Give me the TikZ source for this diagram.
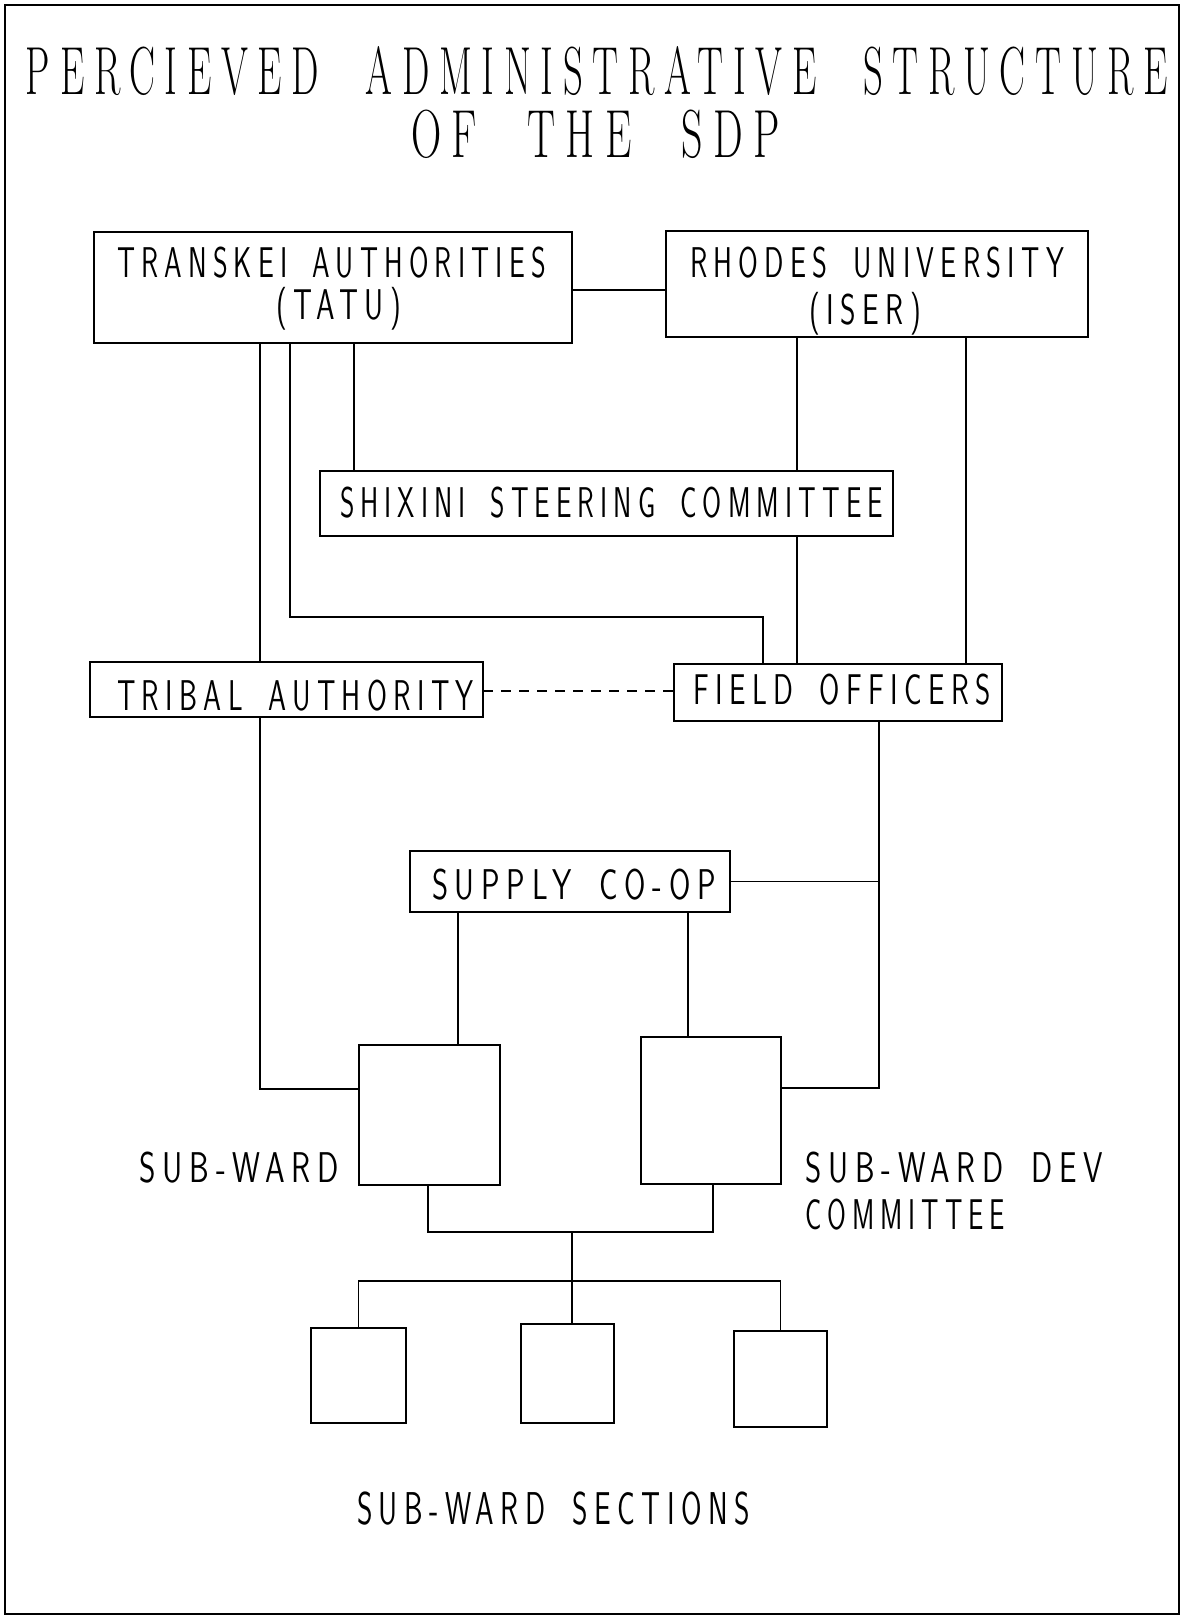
\documentclass[tikz,border=0pt]{standalone}
\usepackage{fontspec}
\usepackage{graphicx}
\newfontfamily\plotfam{Latin Modern Sans}[LetterSpace=22]
\newfontfamily\titlefam{Latin Modern Roman}[LetterSpace=25]
\newcommand{\plotfont}{\plotfam\fontsize{43}{50}\selectfont}
\newcommand{\bigplotfont}{\plotfam\fontsize{46}{52}\selectfont}
\newcommand{\titlefont}{\titlefam\fontsize{68}{76}\selectfont}
\newcommand{\fitw}[2]{\resizebox{#1pt}{\height}{#2}}
\newcommand{\ws}{\hspace{0.9em}}
\newcommand{\tws}{\hspace{1.2em}}
\tikzset{
  box/.style={draw, line width=2.3pt, rectangle, inner sep=0pt, outer sep=0pt},
  conn/.style={line width=1.6pt},
  lbl/.style={inner sep=0pt, outer sep=0pt, anchor=base west, font=\plotfont},
  biglbl/.style={inner sep=0pt, outer sep=0pt, anchor=base west, font=\bigplotfont},
  ttl/.style={inner sep=0pt, outer sep=0pt, anchor=base west, font=\titlefont},
  frame/.style={draw, line width=2.8pt},
}
\begin{document}
\begin{tikzpicture}[x=1pt, y=-1pt]
\useasboundingbox (0,0) rectangle (1184,1619);
\draw[frame] (5,5) rectangle (1179,1614);

% title
\node[ttl] (t1) at (26,95) {\fitw{1142}{PERCIEVED\tws ADMINISTRATIVE\tws STRUCTURE}};
\node[ttl] (t2) at (411,157) {\fitw{369}{OF\tws THE\tws SDP}};

% boxes
\node[box, minimum width=478pt, minimum height=111pt] (TA) at (333,287.5) {};
\node[box, minimum width=422pt, minimum height=106pt] (RU) at (877,284) {};
\node[box, minimum width=573pt, minimum height=65pt] (SC) at (606.5,503.5) {};
\node[box, minimum width=393pt, minimum height=55pt] (TR) at (286.5,689.5) {};
\node[box, minimum width=328pt, minimum height=57pt] (FO) at (838,692.5) {};
\node[box, minimum width=320pt, minimum height=61pt] (SP) at (570,881.5) {};
\node[box, minimum width=141pt, minimum height=140pt] (SW) at (429.5,1115) {};
\node[box, minimum width=140pt, minimum height=147pt] (SD) at (711,1110.5) {};
\node[box, minimum width=95pt, minimum height=95pt] (S1) at (358.5,1375.5) {};
\node[box, minimum width=93pt, minimum height=99pt] (S2) at (567.5,1373.5) {};
\node[box, minimum width=93pt, minimum height=96pt] (S3) at (780.5,1379) {};

% texts
\node[lbl] (tTA1) at (117,277) {\fitw{429}{TRANSKEI\ws AUTHORITIES}};
\node[lbl] (tTA2) at (276,319) {\fitw{125}{(TATU)}};
\node[lbl] (tRU1) at (690,277) {\fitw{374}{RHODES\ws UNIVERSITY}};
\node[lbl] (tRU2) at (809,324) {\fitw{112}{(ISER)}};
\node[lbl] (tSC) at (340,517) {\fitw{543}{SHIXINI\ws STEERING\ws COMMITTEE}};
\node[lbl] (tTR) at (117,710) {\fitw{357}{TRIBAL\ws AUTHORITY}};
\node[lbl] (tFO) at (693,704) {\fitw{298}{FIELD\ws OFFICERS}};
\node[lbl] (tSP) at (432,899) {\fitw{284}{SUPPLY\ws CO-OP}};
\node[lbl] (tSW) at (139,1182) {\fitw{200}{SUB-WARD}};
\node[lbl] (tSD1) at (805,1182) {\fitw{298}{SUB-WARD\ws DEV}};
\node[lbl] (tSD2) at (805,1229) {\fitw{200}{COMMITTEE}};
\node[biglbl] (tSS) at (357,1524) {\fitw{393}{SUB-WARD\ws SECTIONS}};

% helper coordinates
\coordinate (hTR) at (0,290);
\coordinate (vTAa) at (260,0);
\coordinate (vTAb) at (290,617);
\coordinate (vFOa) at (763,617);
\coordinate (vTAc) at (354,0);
\coordinate (vRUa) at (797,0);
\coordinate (vRUb) at (966,0);
\coordinate (vFOb) at (879,0);
\coordinate (hD) at (0,691);
\coordinate (hSW) at (0,1089);
\coordinate (hSD) at (0,1088);
\coordinate (vSPa) at (458,0);
\coordinate (vSPb) at (688,0);
\coordinate (vSWb) at (428,1232);
\coordinate (vSDb) at (713,1232);
\coordinate (mid) at (572,1232);
\coordinate (bar) at (572,1281);

% connectors
\draw[conn] (TA.east |- hTR) -- (RU.west |- hTR);
\draw[conn] (TA.south -| vTAa) -- (TR.north -| vTAa);
\draw[conn] (TR.south -| vTAa) -- (vTAa |- hSW) -- (SW.west |- hSW);
\draw[conn] (TA.south -| vTAb) -- (vTAb) -- (vFOa) -- (FO.north -| vFOa);
\draw[conn] (TA.south -| vTAc) -- (SC.north -| vTAc);
\draw[conn] (RU.south -| vRUa) -- (SC.north -| vRUa);
\draw[conn] (SC.south -| vRUa) -- (FO.north -| vRUa);
\draw[conn] (RU.south -| vRUb) -- (FO.north -| vRUb);
\draw[conn, dash pattern=on 10pt off 8pt] (TR.east |- hD) -- (FO.west |- hD);
\draw[conn] (FO.south -| vFOb) -- (vFOb |- hSD) -- (SD.east |- hSD);
\draw[conn] (SP.east) -- (SP.east -| vFOb);
\draw[conn] (SP.south -| vSPa) -- (SW.north -| vSPa);
\draw[conn] (SP.south -| vSPb) -- (SD.north -| vSPb);
\draw[conn] (SW.south -| vSWb) -- (vSWb) -- (vSDb) -- (SD.south -| vSDb);
\draw[conn] (mid) -- (S2.north -| mid);
\draw[conn] (S1.north) -- (S1.north |- bar) -- (S3.north |- bar) -- (S3.north);
\end{tikzpicture}
\end{document}
